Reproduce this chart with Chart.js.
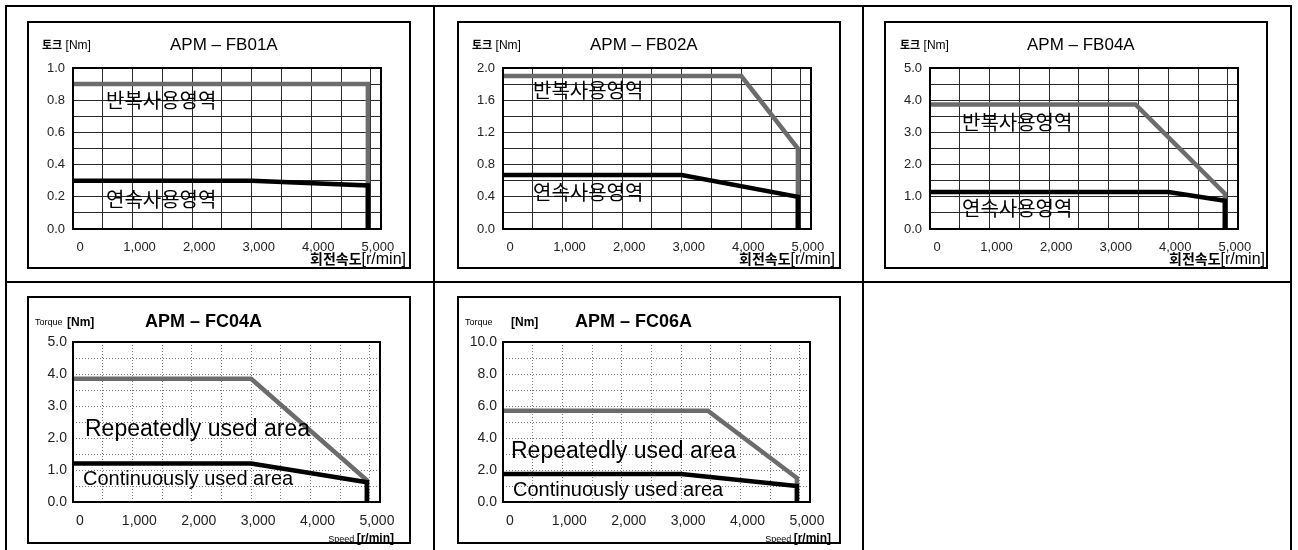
<!DOCTYPE html>
<html><head><meta charset="utf-8">
<script src="https://cdn.jsdelivr.net/npm/chart.js@4.4.0/dist/chart.umd.min.js"></script>
<style>
html,body{margin:0;padding:0;background:#fff;}
body{width:1298px;height:550px;overflow:hidden;position:relative;font-family:"Liberation Sans",Arial,sans-serif;color:#000;}
.ln{position:absolute;background:#000;}
.frame{position:absolute;border:2px solid #000;box-sizing:border-box;width:384px;height:248px;pointer-events:none;}
canvas{position:absolute;}
.t{position:absolute;white-space:nowrap;line-height:1;transform:translateY(-50%);}
.tr{position:absolute;white-space:nowrap;line-height:1;transform:translate(-100%,-50%);}
.kr{font-family:"Noto Sans CJK KR",sans-serif;}
.b{font-weight:bold;}
</style></head><body>

<!-- table lines -->
<div class="ln" style="left:5px;top:5px;width:1287px;height:2px"></div>
<div class="ln" style="left:5px;top:281px;width:1287px;height:2px"></div>
<div class="ln" style="left:5px;top:5px;width:2px;height:545px"></div>
<div class="ln" style="left:433px;top:5px;width:2px;height:545px"></div>
<div class="ln" style="left:862px;top:5px;width:2px;height:545px"></div>
<div class="ln" style="left:1290px;top:5px;width:2px;height:545px"></div>

<canvas id="c1" width="384" height="248" style="left:27px;top:21px"></canvas>
<canvas id="c2" width="384" height="248" style="left:457px;top:21px"></canvas>
<canvas id="c3" width="384" height="248" style="left:884px;top:21px"></canvas>
<canvas id="c4" width="384" height="248" style="left:27px;top:296px"></canvas>
<canvas id="c5" width="384" height="248" style="left:457px;top:296px"></canvas>

<div class="frame" style="left:27px;top:21px"></div>
<div class="frame" style="left:457px;top:21px"></div>
<div class="frame" style="left:884px;top:21px"></div>
<div class="frame" style="left:27px;top:296px"></div>
<div class="frame" style="left:457px;top:296px"></div>

<!-- chart 1 texts -->
<div class="t" style="left:42px;top:45px;font-size:12px"><span class="kr b" style="font-size:11px">토크</span> [Nm]</div>
<div class="t" style="left:170px;top:44px;font-size:17px">APM – FB01A</div>
<div class="t kr" style="left:106px;top:100px;font-size:20px">반복사용영역</div>
<div class="t kr" style="left:106px;top:199px;font-size:20px">연속사용영역</div>
<div class="tr" style="left:406px;top:259px;font-size:16px"><span class="kr b" style="font-size:14px">회전속도</span>[r/min]</div>

<!-- chart 2 texts -->
<div class="t" style="left:472px;top:45px;font-size:12px"><span class="kr b" style="font-size:11px">토크</span> [Nm]</div>
<div class="t" style="left:590px;top:44px;font-size:17px">APM – FB02A</div>
<div class="t kr" style="left:533px;top:90px;font-size:20px">반복사용영역</div>
<div class="t kr" style="left:533px;top:192px;font-size:20px">연속사용영역</div>
<div class="tr" style="left:835px;top:259px;font-size:16px"><span class="kr b" style="font-size:14px">회전속도</span>[r/min]</div>

<!-- chart 3 texts -->
<div class="t" style="left:900px;top:45px;font-size:12px"><span class="kr b" style="font-size:11px">토크</span> [Nm]</div>
<div class="t" style="left:1027px;top:44px;font-size:17px">APM – FB04A</div>
<div class="t kr" style="left:962px;top:122px;font-size:20px">반복사용영역</div>
<div class="t kr" style="left:962px;top:208px;font-size:20px">연속사용영역</div>
<div class="tr" style="left:1265px;top:259px;font-size:16px"><span class="kr b" style="font-size:14px">회전속도</span>[r/min]</div>

<!-- chart 4 texts -->
<div class="t" style="left:35px;top:322px;font-size:9px">Torque</div>
<div class="t b" style="left:67px;top:322px;font-size:12px">[Nm]</div>
<div class="t b" style="left:145px;top:321px;font-size:18px">APM – FC04A</div>
<div class="t" style="left:85px;top:428px;font-size:23px">Repeatedly used area</div>
<div class="t" style="left:83px;top:478px;font-size:20px">Continuously used area</div>
<div class="tr" style="left:394px;top:538px;font-size:9px">Speed <span class="b" style="font-size:12px">[r/min]</span></div>

<!-- chart 5 texts -->
<div class="t" style="left:465px;top:322px;font-size:9px">Torque</div>
<div class="t b" style="left:511px;top:322px;font-size:12px">[Nm]</div>
<div class="t b" style="left:575px;top:321px;font-size:18px">APM – FC06A</div>
<div class="t" style="left:511px;top:450px;font-size:23px">Repeatedly used area</div>
<div class="t" style="left:513px;top:489px;font-size:20px">Continuously used area</div>
<div class="tr" style="left:831px;top:538px;font-size:9px">Speed <span class="b" style="font-size:12px">[r/min]</span></div>

<script>
// ---------- data ----------
const speedGrid = [0, 500, 1000, 1500, 2000, 2500, 3000, 3500, 4000, 4500, 5000];
const speedTickLabels = [0, 1000, 2000, 3000, 4000, 5000];
const speedMax = 5170;

const fb01aTorqueTicks = [0.0, 0.2, 0.4, 0.6, 0.8, 1.0];
const fb01aRepeatedX = [0, 4950, 4950];
const fb01aRepeatedY = [0.9, 0.9, 0];
const fb01aContinuousX = [0, 3000, 4950, 4950];
const fb01aContinuousY = [0.3, 0.3, 0.27, 0];

const fb02aTorqueTicks = [0.0, 0.4, 0.8, 1.2, 1.6, 2.0];
const fb02aRepeatedX = [0, 4000, 4950, 4950];
const fb02aRepeatedY = [1.9, 1.9, 1.0, 0];
const fb02aContinuousX = [0, 3000, 4950, 4950];
const fb02aContinuousY = [0.67, 0.67, 0.4, 0];

const fb04aTorqueTicks = [0.0, 1.0, 2.0, 3.0, 4.0, 5.0];
const fb04aRepeatedX = [0, 3450, 4950, 4950];
const fb04aRepeatedY = [3.87, 3.87, 1.1, 0];
const fb04aContinuousX = [0, 4000, 4950, 4950];
const fb04aContinuousY = [1.15, 1.15, 0.88, 0];

const fc04aTorqueTicks = [0.0, 1.0, 2.0, 3.0, 4.0, 5.0];
const fc04aRepeatedX = [0, 3000, 4950, 4950];
const fc04aRepeatedY = [3.85, 3.85, 0.68, 0];
const fc04aContinuousX = [0, 3000, 4950, 4950];
const fc04aContinuousY = [1.2, 1.2, 0.62, 0];

const fc06aTorqueTicks = [0.0, 2.0, 4.0, 6.0, 8.0, 10.0];
const fc06aRepeatedX = [0, 3450, 4950, 4950];
const fc06aRepeatedY = [5.7, 5.7, 1.5, 0];
const fc06aContinuousX = [0, 3000, 4950, 4950];
const fc06aContinuousY = [1.75, 1.75, 1.0, 0];

// ---------- rendering ----------
Chart.defaults.font.family = "'Liberation Sans', Arial, sans-serif";

const plotFrame = {
  id: 'plotFrame',
  afterDraw(chart) {
    const {ctx, chartArea: a} = chart;
    ctx.save();
    ctx.strokeStyle = '#000';
    ctx.lineWidth = 2;
    ctx.strokeRect(a.left, a.top, a.right - a.left, a.bottom - a.top);
    ctx.restore();
  }
};

function pts(xs, ys) { return xs.map((x, i) => ({x, y: ys[i]})); }
function near(list, v) { return list.some(t => Math.abs(t - v) < 1e-6); }

function makeChart(id, s) {
  const dotted = s.dotted;
  const gridOpts = dotted
    ? {color: '#7a7a7a', lineWidth: 1, drawTicks: false, borderDash: [1, 2]}
    : {color: '#2a2a2a', lineWidth: 1, drawTicks: false};
  const borderOpts = dotted ? {display: false, dash: [1, 2]} : {display: false};
  new Chart(document.getElementById(id), {
    type: 'scatter',
    data: {datasets: [
      {data: pts(s.repX, s.repY), showLine: true, borderColor: '#6c6c6c', borderWidth: 4.5,
       pointRadius: 0, tension: 0, borderJoinStyle: 'miter', order: 2},
      {data: pts(s.conX, s.conY), showLine: true, borderColor: '#000', borderWidth: 4.5,
       pointRadius: 0, tension: 0, borderJoinStyle: 'miter', order: 1}
    ]},
    options: {
      responsive: false, animation: false, events: [],
      layout: {padding: {left: 0, top: s.padTop, right: s.padRight, bottom: 0}},
      plugins: {legend: {display: false}, tooltip: {enabled: false}},
      scales: {
        x: {
          type: 'linear', min: 0, max: speedMax,
          afterBuildTicks: sc => { sc.ticks = speedGrid.map(v => ({value: v})); },
          afterFit: sc => { sc.height = s.xh; },
          border: borderOpts, grid: gridOpts,
          ticks: {
            autoSkip: false, maxRotation: 0, minRotation: 0,
            padding: s.xPad, labelOffset: 7, color: '#222', font: {size: s.tickSize},
            callback: v => near(speedTickLabels, v) ? Number(v).toLocaleString('en-US') : ''
          }
        },
        y: {
          type: 'linear', min: 0, max: s.yMax,
          afterFit: sc => { sc.width = s.yw; },
          border: borderOpts, grid: gridOpts,
          ticks: {
            stepSize: s.yStep, autoSkip: false, padding: s.yPad,
            color: '#222', font: {size: s.tickSize},
            callback: v => near(s.yTicks, v) ? Number(v).toFixed(1) : ''
          }
        }
      }
    },
    plugins: [plotFrame]
  });
}

const row1 = {padTop: 47, padRight: 30, xh: 40, yw: 46, xPad: 11, yPad: 8, tickSize: 13, dotted: false};
const row2 = {padTop: 46, padRight: 31, xh: 42, yw: 46, xPad: 11, yPad: 6, tickSize: 14, dotted: true};

makeChart('c1', Object.assign({}, row1, {yMax: 1.0, yStep: 0.1, yTicks: fb01aTorqueTicks,
  repX: fb01aRepeatedX, repY: fb01aRepeatedY, conX: fb01aContinuousX, conY: fb01aContinuousY}));
makeChart('c2', Object.assign({}, row1, {yMax: 2.0, yStep: 0.2, yTicks: fb02aTorqueTicks,
  repX: fb02aRepeatedX, repY: fb02aRepeatedY, conX: fb02aContinuousX, conY: fb02aContinuousY}));
makeChart('c3', Object.assign({}, row1, {yMax: 5.0, yStep: 0.5, yTicks: fb04aTorqueTicks,
  repX: fb04aRepeatedX, repY: fb04aRepeatedY, conX: fb04aContinuousX, conY: fb04aContinuousY}));
makeChart('c4', Object.assign({}, row2, {yMax: 5.0, yStep: 0.5, yTicks: fc04aTorqueTicks,
  repX: fc04aRepeatedX, repY: fc04aRepeatedY, conX: fc04aContinuousX, conY: fc04aContinuousY}));
makeChart('c5', Object.assign({}, row2, {yMax: 10.0, yStep: 1.0, yTicks: fc06aTorqueTicks,
  repX: fc06aRepeatedX, repY: fc06aRepeatedY, conX: fc06aContinuousX, conY: fc06aContinuousY}));
</script>
</body></html>
